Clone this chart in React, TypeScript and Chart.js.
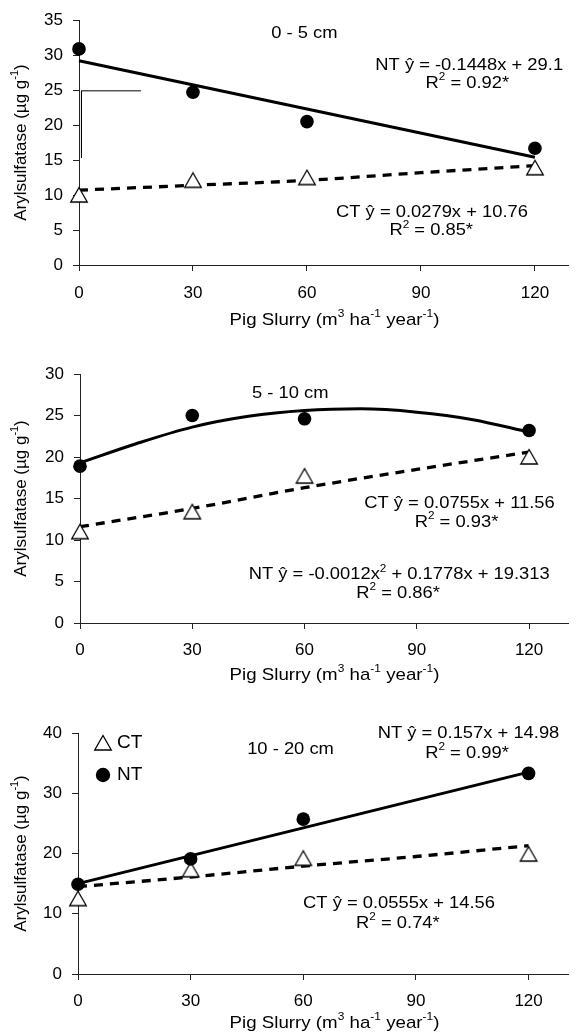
import React, { useEffect, useRef } from "react";
import { Chart, registerables } from "chart.js";

Chart.register(...registerables);

const FONT = "'Liberation Sans', Arial, Helvetica, sans-serif";

// ---- shared data ----
const doses = [0, 30, 60, 120];
const xTickValues = [0, 30, 60, 90, 120];
const yTitle = "Arylsulfatase (µg g^{-1})";
const xTitle = "Pig Slurry (m^{3} ha^{-1} year^{-1})";
const legendLabels = ["CT", "NT"];

// ---- panel 1: 0 - 5 cm ----
const p1YTicks = [0, 5, 10, 15, 20, 25, 30, 35];
const p1NT = [30.9, 24.7, 20.5, 16.7];
const p1CT = [10.0, 12.1, 12.5, 13.9];
const p1NTFitX = [0, 120];
const p1NTFitY = [29.2, 15.4];
const p1CTFitX = [0, 30, 60, 90, 120];
const p1CTFitY = [10.7, 11.4, 12.1, 13.2, 14.2];
const p1MarkX = [16.3, 0.65, 0.65];
const p1MarkY = [24.9, 24.9, 15.3];
const p1Texts = [
  "0 - 5 cm",
  "NT ŷ = -0.1448x + 29.1",
  "R^{2} = 0.92*",
  "CT ŷ = 0.0279x + 10.76",
  "R^{2} = 0.85*",
];

// ---- panel 2: 5 - 10 cm ----
const p2YTicks = [0, 5, 10, 15, 20, 25, 30];
const p2NT = [18.9, 25.0, 24.6, 23.2];
const p2CT = [11.0, 13.4, 17.7, 20.0];
const p2NTFitX = [0, 15, 30, 45, 60, 75, 90, 105, 120];
const p2NTFitY = [19.3, 21.6, 23.6, 24.9, 25.6, 25.8, 25.4, 24.5, 23.0];
const p2CTFitX = [0, 30, 60, 90, 120];
const p2CTFitY = [11.6, 13.8, 16.3, 18.5, 20.6];
const p2Texts = [
  "5 - 10 cm",
  "CT ŷ = 0.0755x + 11.56",
  "R^{2} = 0.93*",
  "NT ŷ = -0.0012x^{2} + 0.1778x + 19.313",
  "R^{2} = 0.86*",
];

// ---- panel 3: 10 - 20 cm ----
const p3YTicks = [0, 10, 20, 30, 40];
const p3NT = [14.9, 19.1, 25.7, 33.3];
const p3CT = [12.5, 17.3, 19.2, 19.9];
const p3NTFitX = [0, 120];
const p3NTFitY = [15.0, 33.5];
const p3CTFitX = [0, 30, 60, 90, 120];
const p3CTFitY = [14.5, 16.1, 17.9, 19.5, 21.3];
const p3Texts = [
  "10 - 20 cm",
  "NT ŷ = 0.157x + 14.98",
  "R^{2} = 0.99*",
  "CT ŷ = 0.0555x + 14.56",
  "R^{2} = 0.74*",
];

type Seg = [string, boolean];

function richSegs(s: string): Seg[] {
  const out: Seg[] = [];
  const re = /\^\{([^}]*)\}/g;
  let last = 0;
  let m: RegExpExecArray | null;
  while ((m = re.exec(s))) {
    if (m.index > last) out.push([s.slice(last, m.index), false]);
    out.push([m[1], true]);
    last = re.lastIndex;
  }
  if (last < s.length) out.push([s.slice(last), false]);
  return out;
}

function drawRich(
  ctx: CanvasRenderingContext2D,
  s: string,
  cx: number,
  cy: number,
  size: number,
  align: "center" | "left" = "center",
  sx = 1
) {
  const segs = richSegs(s);
  const main = `${size}px ${FONT}`;
  const sup = `${size * 0.64}px ${FONT}`;
  let w = 0;
  for (const [t, isSup] of segs) {
    ctx.font = isSup ? sup : main;
    w += ctx.measureText(t).width;
  }
  ctx.save();
  ctx.translate(cx, cy);
  ctx.scale(sx, 1);
  ctx.fillStyle = "#000";
  ctx.textBaseline = "middle";
  ctx.textAlign = "left";
  let x = align === "center" ? -w / 2 : 0;
  for (const [t, isSup] of segs) {
    ctx.font = isSup ? sup : main;
    ctx.fillText(t, x, isSup ? -size * 0.36 : 0);
    x += ctx.measureText(t).width;
  }
  ctx.restore();
}

function makeTriangle(): HTMLCanvasElement {
  const c = document.createElement("canvas");
  c.width = 20;
  c.height = 18;
  const g = c.getContext("2d")!;
  g.beginPath();
  g.moveTo(10, 1.5);
  g.lineTo(18.3, 16);
  g.lineTo(1.7, 16);
  g.closePath();
  g.fillStyle = "#fff";
  g.fill();
  g.lineWidth = 1.3;
  g.strokeStyle = "#000";
  g.stroke();
  return c;
}

const pts = (xs: number[], ys: number[]) => xs.map((x, i) => ({ x, y: ys[i] }));

type PanelCfg = {
  top: number;
  height: number;
  padTop: number;
  bottom: number;
  left: number;
  xMax: number;
  yMax: number;
  yTicks: number[];
  nt: number[];
  ct: number[];
  ntFit: [number[], number[]];
  ctFit: [number[], number[]];
  mark?: [number[], number[]];
  texts: string[];
  textPos: [number, number][];
  xTitleDy: number;
  xTickPad: number;
  legend: boolean;
};

const panels: PanelCfg[] = [
  {
    top: 0, height: 340, padTop: 18, bottom: 265, left: 79, xMax: 128.7, yMax: 35,
    yTicks: p1YTicks, nt: p1NT, ct: p1CT,
    ntFit: [p1NTFitX, p1NTFitY], ctFit: [p1CTFitX, p1CTFitY], mark: [p1MarkX, p1MarkY],
    texts: p1Texts,
    textPos: [[59.3, 33.1], [102.7, 28.6], [102.2, 26.0], [92.9, 7.6], [92.7, 4.9]],
    xTitleDy: 55, xTickPad: 12, legend: false,
  },
  {
    top: 340, height: 350, padTop: 34, bottom: 623, left: 80, xMax: 130.4, yMax: 30,
    yTicks: p2YTicks, nt: p2NT, ct: p2CT,
    ntFit: [p2NTFitX, p2NTFitY], ctFit: [p2CTFitX, p2CTFitY],
    texts: p2Texts,
    textPos: [[56.2, 27.7], [101.4, 14.36], [100.6, 12.1], [85.3, 5.81], [85.0, 3.6]],
    xTitleDy: 52, xTickPad: 11, legend: false,
  },
  {
    top: 690, height: 342, padTop: 43, bottom: 974, left: 78, xMax: 130.5, yMax: 40,
    yTicks: p3YTicks, nt: p3NT, ct: p3CT,
    ntFit: [p3NTFitX, p3NTFitY], ctFit: [p3CTFitX, p3CTFitY],
    texts: p3Texts,
    textPos: [[56.6, 37.3], [104.0, 40.0], [103.6, 36.6], [85.5, 11.67], [85.2, 8.46]],
    xTitleDy: 49, xTickPad: 11, legend: true,
  },
];

function PanelChart({ cfg }: { cfg: PanelCfg }) {
  const ref = useRef<HTMLCanvasElement | null>(null);
  useEffect(() => {
    if (!ref.current) return;
    const tri = makeTriangle();
    const annot = {
      id: "annot" + cfg.top,
      afterDraw(chart: any) {
        const ctx: CanvasRenderingContext2D = chart.ctx;
        const xs = chart.scales.x;
        const ys = chart.scales.y;
        const ca = chart.chartArea;
        cfg.texts.forEach((t, i) => {
          const [vx, vy] = cfg.textPos[i];
          drawRich(ctx, t, xs.getPixelForValue(vx), ys.getPixelForValue(vy), 17, "center", 1.08);
        });
        // x title
        drawRich(ctx, xTitle, 334.5, ca.bottom + cfg.xTitleDy, 17, "center", 1.1);
        // y title
        ctx.save();
        ctx.translate(21.5, (ca.top + ca.bottom) / 2);
        ctx.rotate(-Math.PI / 2);
        drawRich(ctx, yTitle, 0, 0, 17, "center");
        ctx.restore();
        if (cfg.legend) {
          const lx = ca.left + 25;
          const y1 = ca.top + 10;
          const y2 = ca.top + 42;
          ctx.drawImage(tri, lx - tri.width / 2, y1 - tri.height / 2);
          ctx.beginPath();
          ctx.arc(lx, y2, 7.2, 0, Math.PI * 2);
          ctx.fillStyle = "#000";
          ctx.fill();
          drawRich(ctx, legendLabels[0], lx + 14, y1, 19, "left");
          drawRich(ctx, legendLabels[1], lx + 14, y2, 19, "left");
        }
      },
    };
    const datasets: any[] = [
      {
        label: "NT",
        data: pts(doses, cfg.nt),
        showLine: false,
        pointStyle: "circle",
        pointRadius: 6.8,
        pointBackgroundColor: "#000",
        pointBorderColor: "#000",
        pointBorderWidth: 0,
        order: 0,
        clip: false,
      },
      {
        label: "CT",
        data: pts(doses, cfg.ct),
        showLine: false,
        pointStyle: tri,
        pointRadius: 9,
        order: 0,
        clip: false,
      },
      {
        label: "NT fit",
        data: pts(cfg.ntFit[0], cfg.ntFit[1]),
        showLine: true,
        borderColor: "#000",
        borderWidth: 3,
        pointRadius: 0,
        tension: 0.4,
        cubicInterpolationMode: "monotone",
        order: 1,
        clip: false,
      },
      {
        label: "CT fit",
        data: pts(cfg.ctFit[0], cfg.ctFit[1]),
        showLine: true,
        borderColor: "#000",
        borderWidth: 3.3,
        borderDash: [9, 7],
        pointRadius: 0,
        cubicInterpolationMode: "monotone",
        order: 1,
        clip: false,
      },
    ];
    if (cfg.mark) {
      datasets.push({
        label: "mark",
        data: pts(cfg.mark[0], cfg.mark[1]),
        showLine: true,
        borderColor: "#000",
        borderWidth: 1,
        pointRadius: 0,
        tension: 0,
        order: 2,
        clip: false,
      });
    }
    const chart = new Chart(ref.current, {
      type: "scatter",
      data: { datasets },
      plugins: [annot],
      options: {
        animation: false,
        responsive: false,
        devicePixelRatio: 1,
        layout: { padding: { top: cfg.padTop, left: 0, right: 0, bottom: 0 } },
        plugins: { legend: { display: false }, tooltip: { enabled: false } },
        events: [],
        scales: {
          x: {
            type: "linear",
            min: 0,
            max: cfg.xMax,
            afterBuildTicks: (s: any) => {
              s.ticks = xTickValues.map((v) => ({ value: v }));
            },
            afterFit: (s: any) => {
              s.height = cfg.height - cfg.bottom + cfg.top;
            },
            grid: { display: true, drawOnChartArea: false, drawTicks: true, tickLength: 6, color: "#222", lineWidth: 1 },
            border: { display: true, color: "#222", width: 1 },
            ticks: { color: "#000", font: { size: 17, family: FONT }, padding: cfg.xTickPad, maxRotation: 0 },
          },
          y: {
            type: "linear",
            min: 0,
            max: cfg.yMax,
            afterBuildTicks: (s: any) => {
              s.ticks = cfg.yTicks.map((v) => ({ value: v }));
            },
            afterFit: (s: any) => {
              s.width = cfg.left;
            },
            grid: { display: true, drawOnChartArea: false, drawTicks: true, tickLength: 6, color: "#222", lineWidth: 1 },
            border: { display: true, color: "#222", width: 1 },
            ticks: { color: "#000", font: { size: 17, family: FONT }, padding: 10 },
          },
        },
      } as any,
    });
    return () => chart.destroy();
  }, [cfg]);
  return (
    <canvas
      ref={ref}
      width={578}
      height={cfg.height}
      style={{ position: "absolute", left: 0, top: cfg.top, width: 578, height: cfg.height }}
    />
  );
}

export default function App() {
  return (
    <div
      style={{
        position: "absolute",
        left: 0,
        top: 0,
        width: 578,
        height: 1032,
        overflow: "hidden",
        background: "#fff",
      }}
    >
      {panels.map((p, i) => (
        <PanelChart key={i} cfg={p} />
      ))}
    </div>
  );
}
